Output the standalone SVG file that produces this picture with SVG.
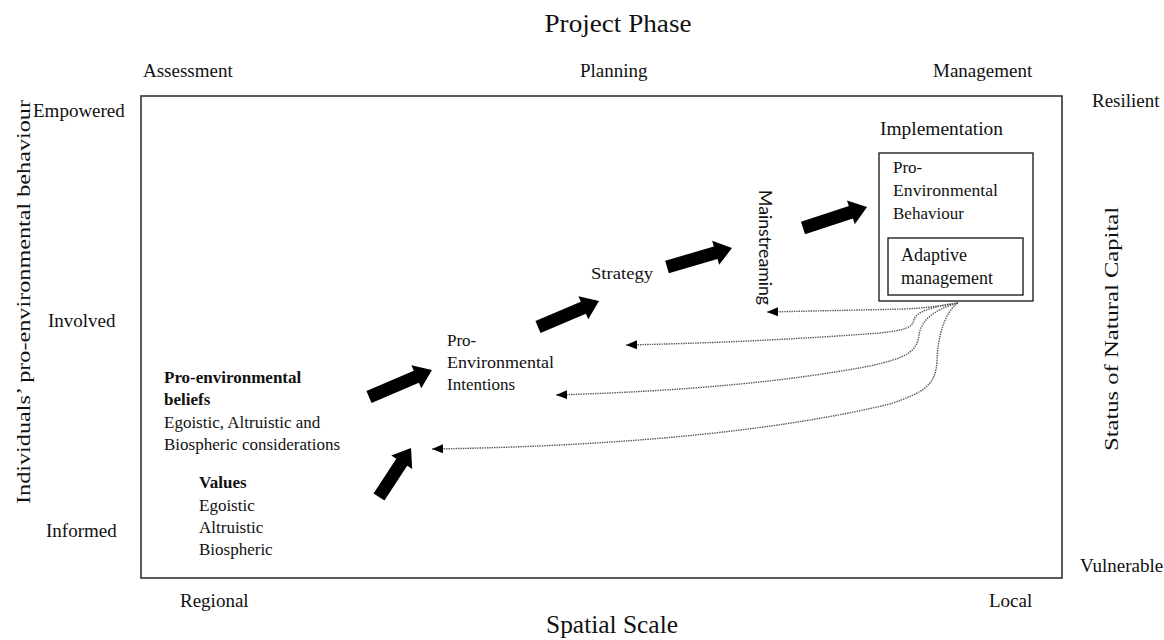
<svg xmlns="http://www.w3.org/2000/svg" width="1164" height="640" viewBox="0 0 1164 640">
  <style>
    text { font-family: "Liberation Serif", "Times New Roman", serif; fill: #111; }
    .lbl { font-size: 19px; }
    .title { font-size: 26px; }
    .body { font-size: 17px; }
    .bold { font-weight: bold; }
    .sans { font-family: Lato, "Liberation Sans", sans-serif; }
    .frame { fill: none; stroke: #333; stroke-width: 1.6; }
    .box { fill: #fff; stroke: #222; stroke-width: 1.4; }
    .block { fill: #000; }
    .feedback { fill: none; stroke: #555; stroke-width: 1.4; stroke-dasharray: 1.4 1; marker-end: url(#tip); }
  </style>
  <defs>
    <!-- small filled head for the dotted feedback arrows -->
    <marker id="tip" markerUnits="userSpaceOnUse" markerWidth="12" markerHeight="10" refX="11" refY="5" orient="auto">
      <path d="M0,0.5 L11,5 L0,9.5 Z" fill="#000"/>
    </marker>
  </defs>

  <rect width="1164" height="640" fill="#fff"/>

  <!-- axis titles and scale labels -->
  <g id="axes">
    <text class="title" x="618" y="32" text-anchor="middle" textLength="147" lengthAdjust="spacingAndGlyphs">Project Phase</text>
    <text class="lbl" x="143" y="77">Assessment</text>
    <text class="lbl" x="580" y="77">Planning</text>
    <text class="lbl" x="933" y="77">Management</text>
    <text class="lbl" x="1092" y="107">Resilient</text>
    <text class="lbl" x="1080" y="572">Vulnerable</text>
    <text class="lbl" x="33" y="117">Empowered</text>
    <text class="lbl" x="48" y="327">Involved</text>
    <text class="lbl" x="46" y="537">Informed</text>
    <text class="lbl" x="180" y="607">Regional</text>
    <text class="lbl" x="989" y="607">Local</text>
    <text class="title" x="612" y="633" text-anchor="middle" textLength="132" lengthAdjust="spacingAndGlyphs">Spatial Scale</text>
    <text class="lbl" transform="translate(30,302) rotate(-90)" text-anchor="middle" font-size="21" textLength="404" lengthAdjust="spacingAndGlyphs">Individuals’ pro-environmental behaviour</text>
    <text class="lbl" transform="translate(1118,329) rotate(-90)" text-anchor="middle" font-size="21" textLength="244" lengthAdjust="spacingAndGlyphs">Status of Natural Capital</text>
  </g>

  <rect id="frame" class="frame" x="141" y="96" width="921" height="482"/>

  <!-- nodes -->
  <g id="values">
    <text class="body bold" x="199" y="488">Values</text>
    <text class="body" x="199" y="511">Egoistic</text>
    <text class="body" x="199" y="533">Altruistic</text>
    <text class="body" x="199" y="555">Biospheric</text>
  </g>

  <g id="beliefs">
    <text class="body bold" x="164" y="383">Pro-environmental</text>
    <text class="body bold" x="164" y="405">beliefs</text>
    <text class="body" x="164" y="428">Egoistic, Altruistic and</text>
    <text class="body" x="164" y="450">Biospheric considerations</text>
  </g>

  <g id="intentions">
    <text class="body" x="447" y="346">Pro-</text>
    <text class="body" x="447" y="368" textLength="107" lengthAdjust="spacingAndGlyphs">Environmental</text>
    <text class="body" x="447" y="390">Intentions</text>
  </g>

  <g id="strategy">
    <text class="body" x="591" y="279" textLength="62" lengthAdjust="spacingAndGlyphs">Strategy</text>
  </g>

  <g id="mainstreaming">
    <text class="sans" font-size="17" transform="translate(759,190) rotate(90)" textLength="115" lengthAdjust="spacingAndGlyphs">Mainstreaming</text>
  </g>

  <g id="implementation">
    <text x="880" y="135" font-size="19" textLength="123" lengthAdjust="spacingAndGlyphs">Implementation</text>
    <rect class="box" x="879" y="153" width="154" height="148"/>
    <text class="body" x="893" y="173">Pro-</text>
    <text class="body" x="893" y="196" textLength="105" lengthAdjust="spacingAndGlyphs">Environmental</text>
    <text class="body" x="893" y="219">Behaviour</text>
  </g>

  <g id="adaptive-management">
    <rect class="box" x="888" y="238" width="135" height="57"/>
    <text x="901" y="261" font-size="18">Adaptive</text>
    <text x="901" y="284" font-size="18">management</text>
  </g>

  <!-- connectors -->
  <g id="connectors">
    <!-- forward progression: thick block arrows (tail at origin, pointing along +x) -->
    <path class="block" transform="translate(379,497) rotate(-56.8)" d="M0,-6.5 L41.5,-6.5 L41.5,-12.5 L58.5,0 L41.5,12.5 L41.5,6.5 L0,6.5 Z"/>
    <path class="block" transform="translate(369,397) rotate(-23.2)" d="M0,-6.5 L51.5,-6.5 L51.5,-12.5 L68.5,0 L51.5,12.5 L51.5,6.5 L0,6.5 Z"/>
    <path class="block" transform="translate(538,327) rotate(-23.1)" d="M0,-6.5 L49.3,-6.5 L49.3,-12.5 L66.3,0 L49.3,12.5 L49.3,6.5 L0,6.5 Z"/>
    <path class="block" transform="translate(667,267) rotate(-16.3)" d="M0,-6.5 L50.7,-6.5 L50.7,-12.5 L67.7,0 L50.7,12.5 L50.7,6.5 L0,6.5 Z"/>
    <path class="block" transform="translate(803,228) rotate(-18.2)" d="M0,-6.5 L50.4,-6.5 L50.4,-12.5 L67.4,0 L50.4,12.5 L50.4,6.5 L0,6.5 Z"/>

    <!-- feedback loops from adaptive management: dotted arrows -->
    <path class="feedback" d="M958,303 C940,306 925,308 905,309 L767,312"/>
    <path class="feedback" d="M958,303 C930,307 916,312 914,320 C912,328 905,330 880,333 C800,339 720,343 626,345"/>
    <path class="feedback" d="M958,303 C935,309 921,320 919,335 C917,352 906,358 870,366 C790,381 690,391 556,395"/>
    <path class="feedback" d="M958,303 C945,312 938,335 937,360 C936,385 925,392 890,404 C790,428 640,446 432,449"/>
  </g>
</svg>
